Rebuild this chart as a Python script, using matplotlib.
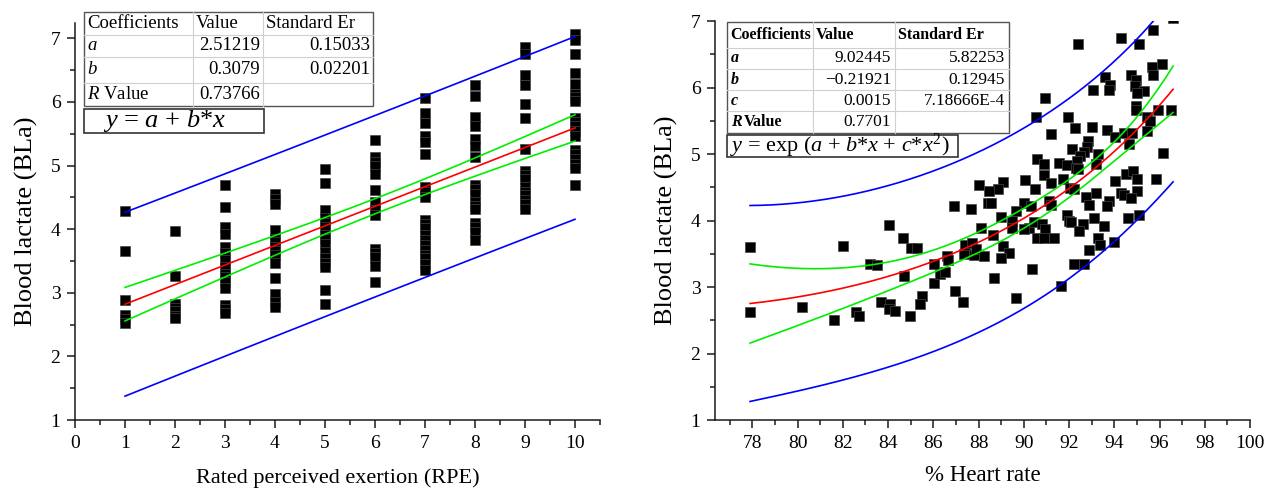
import numpy as np
import matplotlib.pyplot as plt
from matplotlib.patches import Rectangle
from matplotlib.ticker import MultipleLocator

plt.rcParams['font.family'] = 'Liberation Serif'
plt.rcParams['mathtext.fontset'] = 'custom'
plt.rcParams['mathtext.rm'] = 'Liberation Serif'
plt.rcParams['mathtext.it'] = 'Liberation Serif:italic'
plt.rcParams['mathtext.bf'] = 'Liberation Serif:bold'

# ---- left panel data: blood lactate at each RPE level
# (solid runs of squares in the picture hold several overlapping points)
rpe_levels = [1, 2, 3, 4, 5, 6, 7, 8, 9, 10]
bla_rpe = [
    [4.29, 3.66, 2.89, 2.65, 2.59, 2.53],
    [3.97, 3.27, 2.82, 2.76, 2.71, 2.64, 2.60],
    [4.70, 4.35, 4.03, 3.93, 3.72, 3.62, 3.52, 3.41, 3.30, 3.24, 3.17, 3.07, 2.80, 2.74, 2.68],
    [4.56, 4.47, 4.40, 3.98, 3.85, 3.79, 3.72, 3.65, 3.59, 3.47, 3.23, 2.98, 2.86, 2.78],
    [4.94, 4.72, 4.30, 4.17, 4.10, 4.03, 3.90, 3.84, 3.77, 3.64, 3.54, 3.47, 3.41, 3.05, 2.82],
    [5.40, 5.13, 5.06, 5.00, 4.87, 4.61, 4.42, 4.30, 4.22, 3.68, 3.62, 3.56, 3.42, 3.17],
    [6.06, 5.82, 5.67, 5.47, 5.37, 5.18, 4.66, 4.58, 4.51, 4.14, 4.08, 4.01, 3.90, 3.83, 3.75,
     3.67, 3.60, 3.54, 3.45, 3.35],
    [6.27, 6.10, 5.76, 5.62, 5.42, 5.30, 5.13, 4.70, 4.63, 4.56, 4.43, 4.37, 4.31, 4.10, 4.03,
     3.96, 3.83],
    [6.86, 6.75, 6.42, 6.26, 5.97, 5.75, 5.26, 4.92, 4.85, 4.79, 4.66, 4.59, 4.53, 4.46, 4.40, 4.32],
    [7.07, 6.97, 6.75, 6.46, 6.28, 6.12, 6.07, 6.02, 5.75, 5.68, 5.62, 5.55, 5.47, 5.24, 5.18,
     5.11, 5.03, 4.96, 4.70],
]
lin_a, lin_b = 2.51219, 0.3079
lin_table = [["Coefficients", "Value", "Standard Er"],
             ["$a$", "2.51219", "0.15033"],
             ["$b$", "0.3079", "0.02201"],
             ["$R$ Value", "0.73766", ""]]

# ---- right panel data: % heart rate vs blood lactate
hr_pct = [77.9, 77.9, 80.2, 81.6, 82.0, 82.6, 82.7, 83.2, 83.5, 83.7,
          84.05, 84.1, 84.05, 84.3, 84.65, 84.7, 84.95, 85.0, 85.3, 85.5,
          85.4, 86.05, 86.05, 86.3, 86.5, 86.6, 86.65, 86.9, 86.95, 87.3,
          87.35, 87.4, 87.65, 87.7, 87.8, 87.9, 88.0, 95.7, 96.6, 94.3,
          95.1, 92.4, 95.65, 96.1, 95.7, 93.6, 94.75, 94.95, 94.9, 95.3,
          95.0, 93.8, 93.75, 93.05, 90.95, 94.95, 94.95, 95.95, 96.5, 90.55,
          91.95, 95.45, 95.6, 95.45, 92.25, 93.0, 93.7, 91.2, 94.05, 94.45,
          94.8, 94.65, 92.85, 92.8, 92.65, 92.15, 92.5, 93.3, 93.2, 96.15,
          90.6, 90.9, 91.55, 91.9, 92.35, 92.3, 92.4, 94.5, 94.85, 95.0,
          94.05, 95.85, 90.9, 91.2, 91.75, 90.05, 89.1, 88.85, 88.45, 90.5,
          92.05, 92.2, 93.2, 94.3, 94.45, 95.0, 94.75, 92.75, 92.9, 93.75,
          93.7, 91.1, 91.2, 90.0, 90.3, 88.4, 88.55, 89.65, 91.9, 92.0,
          92.6, 92.1, 92.45, 93.1, 93.55, 94.6, 95.1, 89.0, 89.5, 89.5,
          90.25, 90.45, 90.8, 90.95, 90.6, 90.9, 91.35, 90.0, 88.1, 88.65,
          88.25, 89.1, 89.35, 89.0, 90.35, 88.7, 91.65, 92.2, 92.65, 92.9,
          93.3, 93.35, 94.0, 89.65]
bla_hr = [3.60, 2.63, 2.70, 2.50, 3.62, 2.62, 2.56, 3.35, 3.33, 2.77,
          3.93, 2.75, 2.67, 2.64, 3.74, 3.17, 2.56, 3.58, 3.58, 2.86,
          2.75, 3.34, 3.06, 3.20, 3.23, 3.47, 3.40, 4.22, 2.94, 2.77,
          3.50, 3.63, 4.18, 3.66, 3.48, 3.57, 4.53, 6.87, 7.05, 6.74,
          6.65, 6.65, 6.31, 6.35, 6.19, 6.16, 6.19, 6.11, 6.02, 5.94,
          5.92, 6.04, 5.96, 5.96, 5.84, 5.72, 5.66, 5.66, 5.66, 5.55,
          5.56, 5.55, 5.49, 5.35, 5.39, 5.41, 5.36, 5.30, 5.25, 5.31,
          5.31, 5.15, 5.20, 5.10, 5.03, 5.07, 4.97, 5.00, 4.85, 5.01,
          4.93, 4.85, 4.87, 4.84, 4.89, 4.79, 4.77, 4.70, 4.75, 4.63,
          4.59, 4.63, 4.68, 4.56, 4.62, 4.61, 4.58, 4.48, 4.45, 4.47,
          4.49, 4.47, 4.42, 4.42, 4.38, 4.44, 4.34, 4.35, 4.24, 4.29,
          4.22, 4.29, 4.24, 4.27, 4.22, 4.27, 4.27, 4.14, 4.09, 3.99,
          3.94, 3.97, 3.84, 4.04, 3.92, 4.04, 4.08, 4.05, 3.99, 3.89,
          3.89, 3.97, 3.94, 3.87, 3.74, 3.74, 3.74, 3.87, 3.88, 3.78,
          3.47, 3.61, 3.51, 3.43, 3.27, 3.13, 3.01, 3.35, 3.35, 3.55,
          3.74, 3.63, 3.68, 2.84]
exp_a, exp_b, exp_c = 9.02445, -0.21921, 0.0014937   # c shown rounded in table
exp_table = [["Coefficients", "Value", "Standard Er"],
             ["a", "9.02445", "5.82253"],
             ["b", "\u22120.21921", "0.12945"],
             ["c", "0.0015", "7.18666E-4"],
             ["R", "0.7701", ""]]

T_CRIT = 1.98
W, H = 1267, 490

fig = plt.figure(figsize=(W / 100, H / 100), dpi=100)
axL = fig.add_axes([75 / W, 70 / H, 525 / W, 397 / H])
axR = fig.add_axes([715 / W, 70 / H, 535 / W, 399 / H])


def style_axes(ax):
    for side in ['top', 'right']:
        ax.spines[side].set_visible(False)
    for side in ['left', 'bottom']:
        ax.spines[side].set_linewidth(1.1)
        ax.spines[side].set_color('#1a1a1a')
    ax.tick_params(which='major', direction='out', length=6, width=1.1, labelsize=14,
                   color='#1a1a1a', pad=4.5)
    ax.tick_params(which='minor', direction='out', length=3.5, width=1.1, color='#1a1a1a')
    ax.yaxis.set_major_locator(MultipleLocator(1))
    ax.yaxis.set_minor_locator(MultipleLocator(0.5))
    ax.set_ylabel("Blood lactate (BLa)", fontsize=19, labelpad=9)


# ---- left: linear fit with confidence / prediction bands
x1 = np.concatenate([[lv] * len(v) for lv, v in zip(rpe_levels, bla_rpe)]).astype(float)
y1 = np.concatenate(bla_rpe)
n1 = len(x1)
res1 = y1 - (lin_a + lin_b * x1)
s1 = np.sqrt(np.sum(res1 ** 2) / (n1 - 2))
xm1 = x1.mean()
sxx1 = np.sum((x1 - xm1) ** 2)
xs1 = np.linspace(x1.min(), x1.max(), 100)
fit1 = lin_a + lin_b * xs1
se_fit1 = s1 * np.sqrt(1 / n1 + (xs1 - xm1) ** 2 / sxx1)
se_pred1 = s1 * np.sqrt(1 + 1 / n1 + (xs1 - xm1) ** 2 / sxx1)

axL.plot(x1, y1, 's', color='black', markersize=6.5, markeredgecolor='#444', markeredgewidth=0.5, zorder=3)
axL.plot(xs1, fit1, color='red', lw=1.2, zorder=4)
axL.plot(xs1, fit1 + T_CRIT * se_fit1, color='#00ee00', lw=1.2, zorder=4)
axL.plot(xs1, fit1 - T_CRIT * se_fit1, color='#00ee00', lw=1.2, zorder=4)
axL.plot(xs1, fit1 + T_CRIT * se_pred1, color='blue', lw=1.2, zorder=4)
axL.plot(xs1, fit1 - T_CRIT * se_pred1, color='blue', lw=1.2, zorder=4)
axL.set_xlim(0, 10.5)
axL.set_ylim(1, 7.24)
axL.xaxis.set_major_locator(MultipleLocator(1))
axL.xaxis.set_minor_locator(MultipleLocator(0.5))
style_axes(axL)
axL.set_xlabel("Rated perceived exertion (RPE)", fontsize=16, labelpad=12)

# ---- right: exponential-quadratic fit, delta-method bands
x2 = np.array(hr_pct)
y2 = np.array(bla_hr)
n2 = len(x2)


def model(xx):
    return np.exp(exp_a + exp_b * xx + exp_c * xx ** 2)


def basis(xx):
    z = (xx - 90.0) / 10.0
    return np.vstack([np.ones_like(z), z, z ** 2]).T


J = model(x2)[:, None] * basis(x2)
res2 = y2 - model(x2)
s2 = np.sum(res2 ** 2) / (n2 - 3)
cov2 = s2 * np.linalg.inv(J.T @ J)
xs2 = np.linspace(x2.min(), x2.max(), 200)
fit2 = model(xs2)
G = fit2[:, None] * basis(xs2)
var_fit2 = np.einsum('ij,jk,ik->i', G, cov2, G)
conf2 = T_CRIT * np.sqrt(var_fit2)
pred2 = T_CRIT * np.sqrt(s2 + var_fit2)

axR.plot(x2, y2, 's', color='black', markersize=6.5, markeredgecolor='#444', markeredgewidth=0.5, zorder=3)
axR.plot(xs2, fit2, color='red', lw=1.2, zorder=4)
axR.plot(xs2, fit2 + conf2, color='#00ee00', lw=1.2, zorder=4)
axR.plot(xs2, fit2 - conf2, color='#00ee00', lw=1.2, zorder=4)
axR.plot(xs2, fit2 + pred2, color='blue', lw=1.2, zorder=4)
axR.plot(xs2, fit2 - pred2, color='blue', lw=1.2, zorder=4)
axR.set_xlim(76.35, 100)
axR.set_ylim(1, 7)
axR.xaxis.set_major_locator(MultipleLocator(2))
axR.xaxis.set_minor_locator(MultipleLocator(1))
style_axes(axR)
axR.set_xlabel("% Heart rate", fontsize=16.5, labelpad=10)

# ---- overlay in pixel units for the parameter tables
ov = fig.add_axes([0, 0, 1, 1])
ov.set_xlim(0, W)
ov.set_ylim(H, 0)
ov.axis('off')


def draw_grid(cols, rows):
    ov.add_patch(Rectangle((cols[0], rows[0]), cols[-1] - cols[0], rows[-1] - rows[0],
                           facecolor='white', edgecolor='#555555', lw=1.0, zorder=5))
    for yy in rows[1:-1]:
        ov.plot([cols[0], cols[-1]], [yy, yy], color='#d0d0d0', lw=0.8, zorder=6)
    for xx in cols[1:-1]:
        ov.plot([xx, xx], [rows[0], rows[-1]], color='#d0d0d0', lw=0.8, zorder=6)


# left table
colsL = [84, 193, 263, 373]
rowsL = [12, 35, 57, 83, 106]
draw_grid(colsL, rowsL)
for r, row in enumerate(lin_table):
    yc = (rowsL[r] + rowsL[r + 1]) / 2
    for c, txt in enumerate(row):
        if r == 0 or c == 0:
            ov.text(colsL[c] + 3, yc, txt, fontsize=13.5, ha='left', va='center', zorder=7)
        else:
            ov.text(colsL[c + 1] - 3, yc, txt, fontsize=13.5, ha='right', va='center', zorder=7)
ov.add_patch(Rectangle((84, 109), 180, 24, facecolor='white', edgecolor='#333333', lw=1.2, zorder=5))
ov.text(165, 121, r"$y$ = $a$ + $b$*$x$", fontsize=19, ha='center', va='center', zorder=7)

# right table
colsR = [727, 813, 895, 1009]
rowsR = [22, 48, 69, 90, 111, 133]
draw_grid(colsR, rowsR)
for r, row in enumerate(exp_table):
    yc = (rowsR[r] + rowsR[r + 1]) / 2
    for c, txt in enumerate(row):
        if r == 0:
            ov.text(colsR[c] + 3, yc, txt, fontsize=11.5, fontweight='bold', ha='left', va='center', zorder=7)
        elif c == 0:
            ov.text(colsR[0] + 4, yc, txt, fontsize=11.5, fontweight='bold', fontstyle='italic',
                    ha='left', va='center', zorder=7)
            if txt == "R":
                ov.text(colsR[0] + 17, yc, "Value", fontsize=11.5, fontweight='bold',
                        ha='left', va='center', zorder=7)
        else:
            ov.text(colsR[c + 1] - 4, yc, txt, fontsize=12.5, ha='right', va='center', zorder=7)
ov.add_patch(Rectangle((727, 135), 231, 22, facecolor='white', edgecolor='#333333', lw=1.2, zorder=5))
ov.text(730, 146, r"$y$ = exp ($a$ + $b$*$x$ + $c$*$x^2$)", fontsize=16, ha='left', va='center', zorder=7)

fig.savefig('out.png', dpi=100)
